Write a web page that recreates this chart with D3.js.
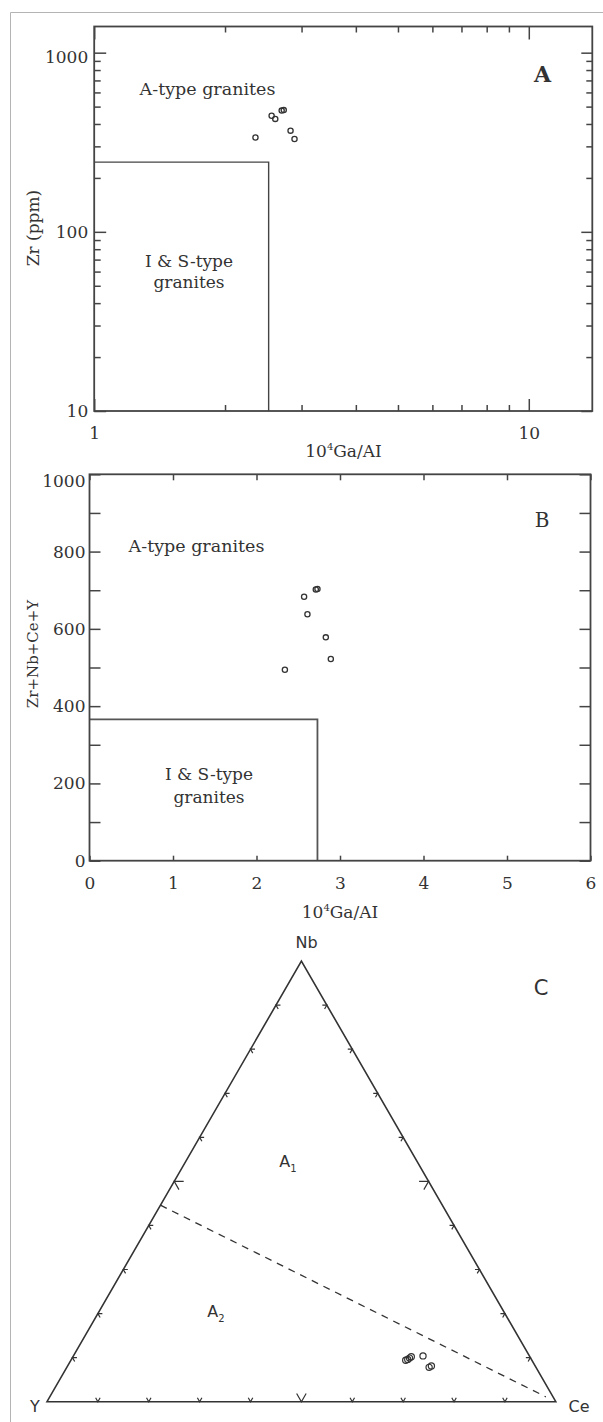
<!DOCTYPE html>
<html>
<head>
<meta charset="utf-8">
<script src="https://cdn.jsdelivr.net/npm/d3@7"></script>
<style>
body { margin: 0; background: #fff; }
svg text { fill: #333; }
.tick line { stroke: #444; stroke-width: 1.5; }
</style>
</head>
<body>
<svg id="chart" width="603" height="1422" font-family="DejaVu Serif"></svg>
<script>

// panel A : 10^4 Ga/Al vs Zr (log-log)
var gaAlA = [2.35, 2.56, 2.61, 2.70, 2.73, 2.83, 2.89];
var zrA = [336, 445, 427, 475, 478, 367, 330];
var boxA = [2.52, 245];   // I & S-type limit
var xMajorA = [1, 10];
var xMinorA = [2, 3, 4, 5, 6, 7, 8, 9];
var yMajorA = [10, 100, 1000];
var yMinorA = [20, 30, 40, 50, 60, 70, 80, 90, 200, 300, 400, 500, 600, 700, 800, 900];

// panel B : 10^4 Ga/Al vs Zr+Nb+Ce+Y
var gaAlB = [2.34, 2.57, 2.61, 2.71, 2.73, 2.83, 2.89];
var sumB = [494, 683, 638, 702, 703, 578, 522];
var boxB = [2.73, 366];
var xTicksB = [0, 1, 2, 3, 4, 5, 6];
var yMajorB = [0, 200, 400, 600, 800, 1000];
var yMinorB = [100, 300, 500, 700, 900];

// panel C : Nb - Y - Ce ternary (fractions)
var nbC = [0.094, 0.096, 0.099, 0.102, 0.104, 0.078, 0.081];
var yC = [0.248, 0.243, 0.238, 0.233, 0.209, 0.210, 0.204];
var ceC = [0.658, 0.661, 0.663, 0.665, 0.687, 0.712, 0.715];
var dividerC = [[0.446, 0.554, 0], [0.011, 0.014, 0.975]];  // [Nb, Y, Ce]
var ternTicks = [0.1, 0.2, 0.3, 0.4, 0.5, 0.6, 0.7, 0.8, 0.9];

var svg = d3.select("#chart");

// outer gray frame
svg.append("path")
    .attr("d", "M603,12.5H10.5V1422")
    .attr("fill", "none")
    .attr("stroke", "#b4b4b4")
    .attr("stroke-width", 1);

function addAxis(g, axis, tx, ty, labels) {
    var a = g.append("g")
        .attr("transform", "translate(" + tx + "," + ty + ")")
        .call(axis);
    a.select(".domain").remove();
    a.attr("font-family", "DejaVu Serif").attr("font-size", 17);
    a.selectAll("text").attr("fill", "#333");
    if (!labels) a.selectAll("text").remove();
    return a;
}

function drawFrame(g, x, y) {
    var xr = x.range(), yr = y.range();
    g.append("rect")
        .attr("x", xr[0]).attr("y", yr[1])
        .attr("width", xr[1] - xr[0])
        .attr("height", yr[0] - yr[1])
        .attr("fill", "none")
        .attr("stroke", "#444")
        .attr("stroke-width", 1.8);
}

function label(g, txt, x, y, opts) {
    opts = opts || {};
    return g.append("text")
        .attr("x", x).attr("y", y)
        .attr("text-anchor", opts.anchor || "middle")
        .attr("font-size", opts.size || 17)
        .attr("font-weight", opts.weight || "normal")
        .attr("font-family", opts.family || "DejaVu Serif")
        .text(txt);
}

function gaAlTitle(g, x, y) {
    var t = g.append("text").attr("x", x).attr("y", y)
        .attr("text-anchor", "middle").attr("font-size", 17);
    t.append("tspan").text("10");
    t.append("tspan").attr("font-size", 10).attr("dy", -7).text("4");
    t.append("tspan").attr("dy", 7).text("Ga/AI");
}

/* ---------- panel A ---------- */
function drawPanelA() {
    var g = svg.append("g");
    var x = d3.scaleLog().domain([1, 14]).range([94.2, 592.3]);
    var y = d3.scaleLog().domain([10, 1400]).range([411, 26.5]);
    var xr = x.range(), yr = y.range();

    var left = addAxis(g, d3.axisLeft(y).tickValues(yMajorA).tickSize(-12).tickPadding(6).tickFormat(d3.format("d")), xr[0], 0, true);
    left.selectAll("text").filter(function(d) { return d === 1000; }).attr("dy", "0.55em");
    addAxis(g, d3.axisLeft(y).tickValues(yMinorA).tickSize(-6.5), xr[0], 0, false);
    addAxis(g, d3.axisRight(y).tickValues(yMajorA).tickSize(-11), xr[1], 0, false);
    addAxis(g, d3.axisRight(y).tickValues(yMinorA).tickSize(-6), xr[1], 0, false);
    addAxis(g, d3.axisBottom(x).tickValues(xMajorA).tickSize(-12).tickPadding(15.5).tickFormat(d3.format("d")), 0, yr[0], true);
    addAxis(g, d3.axisBottom(x).tickValues(xMinorA).tickSize(-6), 0, yr[0], false);
    addAxis(g, d3.axisTop(x).tickValues(xMajorA).tickSize(-13), 0, yr[1], false);
    addAxis(g, d3.axisTop(x).tickValues(xMinorA).tickSize(-6), 0, yr[1], false);

    g.append("path")
        .attr("d", d3.line()([[x(1), y(boxA[1])], [x(boxA[0]), y(boxA[1])], [x(boxA[0]), y(10)]]))
        .attr("fill", "none").attr("stroke", "#444").attr("stroke-width", 1.4);

    drawFrame(g, x, y);

    g.selectAll("circle").data(gaAlA).enter().append("circle")
        .attr("cx", function(d) { return x(d); })
        .attr("cy", function(d, i) { return y(zrA[i]); })
        .attr("r", 2.6)
        .attr("fill", "none").attr("stroke", "#333").attr("stroke-width", 1.3);

    label(g, "A-type granites", 207.5, 95, { size: 17.5 });
    label(g, "I & S-type", 189, 267);
    label(g, "granites", 189, 288);
    label(g, "A", 542.5, 82, { size: 22, weight: "bold" });
    label(g, "Zr (ppm)", 0, 0).attr("transform", "translate(39,228) rotate(-90)");
    gaAlTitle(g, 343.5, 457);
}

/* ---------- panel B ---------- */
function drawPanelB() {
    var g = svg.append("g");
    var x = d3.scaleLinear().domain([0, 6]).range([89.5, 590.5]);
    var y = d3.scaleLinear().domain([0, 1000]).range([860.7, 474.3]);
    var xr = x.range(), yr = y.range();

    var left = addAxis(g, d3.axisLeft(y).tickValues(yMajorB).tickSize(-11).tickPadding(4).tickFormat(d3.format("d")), xr[0], 0, true);
    left.selectAll("text").filter(function(d) { return d === 1000; }).attr("dy", "0.7em");
    addAxis(g, d3.axisLeft(y).tickValues(yMinorB).tickSize(-11), xr[0], 0, false);
    addAxis(g, d3.axisRight(y).tickValues(yMajorB.concat(yMinorB)).tickSize(-11), xr[1], 0, false);
    addAxis(g, d3.axisBottom(x).tickValues(xTicksB).tickSize(-5).tickPadding(16.3).tickFormat(d3.format("d")), 0, yr[0], true);
    addAxis(g, d3.axisTop(x).tickValues(xTicksB).tickSize(-6), 0, yr[1], false);

    g.append("path")
        .attr("d", d3.line()([[x(0), y(boxB[1])], [x(boxB[0]), y(boxB[1])], [x(boxB[0]), y(0)]]))
        .attr("fill", "none").attr("stroke", "#555").attr("stroke-width", 1.8);

    drawFrame(g, x, y);

    g.selectAll("circle").data(gaAlB).enter().append("circle")
        .attr("cx", function(d) { return x(d); })
        .attr("cy", function(d, i) { return y(sumB[i]); })
        .attr("r", 2.6)
        .attr("fill", "none").attr("stroke", "#333").attr("stroke-width", 1.3);

    label(g, "A-type granites", 196.5, 552, { size: 17.5 });
    label(g, "I & S-type", 209, 780);
    label(g, "granites", 209, 803);
    label(g, "B", 542, 527, { size: 20 });
    label(g, "Zr+Nb+Ce+Y", 0, 0, { size: 15 }).attr("transform", "translate(38,654) rotate(-90)");
    gaAlTitle(g, 340, 918);
}

/* ---------- panel C ---------- */
function drawPanelC() {
    var g = svg.append("g");
    var tx = d3.scaleLinear().domain([0, 1]).range([47, 555.8]);
    var ty = d3.scaleLinear().domain([0, 1]).range([1401.7, 961.1]);

    // nb, ce fractions -> screen
    function pos(nb, ce) { return [tx(ce + nb / 2), ty(nb)]; }

    var vY = pos(0, 0), vCe = pos(0, 1), vNb = pos(1, 0);
    g.append("path")
        .attr("d", d3.line()([vY, vCe, vNb, vY]) + "Z")
        .attr("fill", "none").attr("stroke", "#333").attr("stroke-width", 1.6)
        .attr("stroke-linejoin", "miter");

    var s3 = Math.sqrt(3) / 2;
    var edges = [
        { at: function(f) { return pos(0, f); }, arms: [[0.5, -s3], [-0.5, -s3]] },
        { at: function(f) { return pos(f, 0); }, arms: [[1, 0], [0.5, s3]] },
        { at: function(f) { return pos(f, 1 - f); }, arms: [[-1, 0], [-0.5, s3]] }
    ];
    edges.forEach(function(e) {
        ternTicks.forEach(function(f) {
            var p = e.at(f);
            var len = Math.abs(f - 0.5) < 1e-6 ? 9.5 : 4.5;
            var a = e.arms;
            g.append("path")
                .attr("d", d3.line()([
                    [p[0] + a[0][0] * len, p[1] + a[0][1] * len],
                    p,
                    [p[0] + a[1][0] * len, p[1] + a[1][1] * len]
                ]))
                .attr("fill", "none").attr("stroke", "#333").attr("stroke-width", 1.2);
        });
    });

    g.append("path")
        .attr("d", d3.line()(dividerC.map(function(d) { return pos(d[0], d[2]); })))
        .attr("fill", "none").attr("stroke", "#333").attr("stroke-width", 1.3)
        .attr("stroke-dasharray", "7,6");

    g.selectAll("circle").data(nbC).enter().append("circle")
        .attr("cx", function(d, i) { return pos(d, ceC[i])[0]; })
        .attr("cy", function(d, i) { return pos(d, ceC[i])[1]; })
        .attr("r", 3.1)
        .attr("fill", "none").attr("stroke", "#333").attr("stroke-width", 1.2);

    var sans = { family: "DejaVu Sans", size: 16 };
    label(g, "Nb", 306.5, 948, sans);
    label(g, "Y", 35, 1411.7, sans);
    label(g, "Ce", 579, 1411.7, sans);
    label(g, "C", 541, 995, { family: "DejaVu Sans", size: 21 });

    var a1 = label(g, "A", 288, 1167, sans);
    a1.append("tspan").attr("font-size", 10).attr("dy", 5).text("1");
    var a2 = label(g, "A", 216, 1316.7, sans);
    a2.append("tspan").attr("font-size", 10).attr("dy", 5).text("2");
}

drawPanelA();
drawPanelB();
drawPanelC();

</script>
</body>
</html>
